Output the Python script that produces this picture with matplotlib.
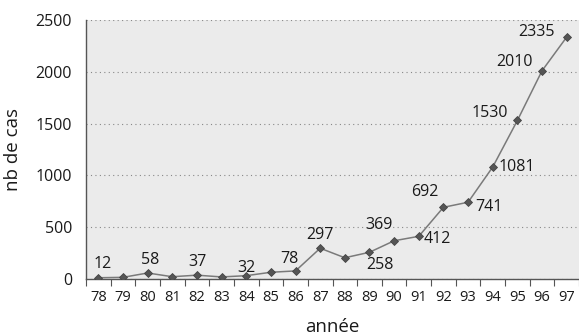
import matplotlib
matplotlib.use("Agg")
import matplotlib.pyplot as plt
from matplotlib.ticker import FixedLocator, NullFormatter

plt.rcParams["font.family"] = ["Open Sans", "DejaVu Sans"]

# annual case counts (unlabeled years estimated)
years = list(range(78, 98))
cases = [12, 16, 58, 22, 37, 20, 32, 65, 78, 297, 205, 258, 369, 412, 692, 741, 1081, 1530, 2010, 2335]
labelled = {78, 80, 82, 84, 86, 87, 89, 90, 91, 92, 93, 94, 95, 96, 97}

# label offsets in pixels, per year
OFFS = {78: (4, 14), 80: (2, 13), 82: (1, 13), 84: (0, 8), 86: (-6, 12), 87: (0, 13),
        89: (10, -13), 90: (-15, 16), 91: (19, -3), 92: (-19, 15), 93: (21, -5),
        94: (24, 0), 95: (-28, 7), 96: (-28, 9), 97: (-30, 5)}
TXT = "#1a1a1a"

fig = plt.figure(figsize=(5.79, 3.36), dpi=100)
ax = fig.add_axes([86 / 579, 1 - 279 / 336, 493 / 579, 259 / 336])
ax.set_facecolor("#ebebeb")

ax.plot(years, cases, color="#7a7a7a", lw=1.1, marker="D", ms=4.5,
        mfc="#555555", mec="#444444", mew=0.6, zorder=3)
for y, v in zip(years, cases):
    if y in labelled:
        dx, dy = OFFS[y]
        ax.annotate(str(v), (y, v), xytext=(dx, dy), textcoords="offset pixels",
                    ha="center", va="center", fontsize=11.5, color=TXT)

ax.set_xlim(77.5, 97.5)
ax.set_ylim(0, 2500)
ax.set_yticks(range(0, 2501, 500))
ax.set_xticks(years)
ax.set_xticklabels([str(y) for y in years], fontsize=10.5, color=TXT)
ax.xaxis.set_minor_locator(FixedLocator([y + 0.5 for y in range(77, 98)]))
ax.xaxis.set_minor_formatter(NullFormatter())
ax.tick_params(axis="x", which="major", length=0, pad=8)
ax.tick_params(axis="x", which="minor", length=5, width=0.8, color="#555555", direction="out")
ax.tick_params(axis="y", length=0, pad=10, labelsize=11.5, labelcolor=TXT)
ax.grid(axis="y", ls=(0, (1, 3)), color="#888888", lw=0.8)
ax.set_axisbelow(True)
for s in ("top", "right"):
    ax.spines[s].set_visible(False)
for s in ("left", "bottom"):
    ax.spines[s].set_color("#555555")
    ax.spines[s].set_linewidth(1.0)

ax.set_xlabel("année", fontsize=13.5, color=TXT, labelpad=9)
ax.set_ylabel("nb de cas", fontsize=13.5, color=TXT, labelpad=10)

fig.savefig("out.png", dpi=100)
